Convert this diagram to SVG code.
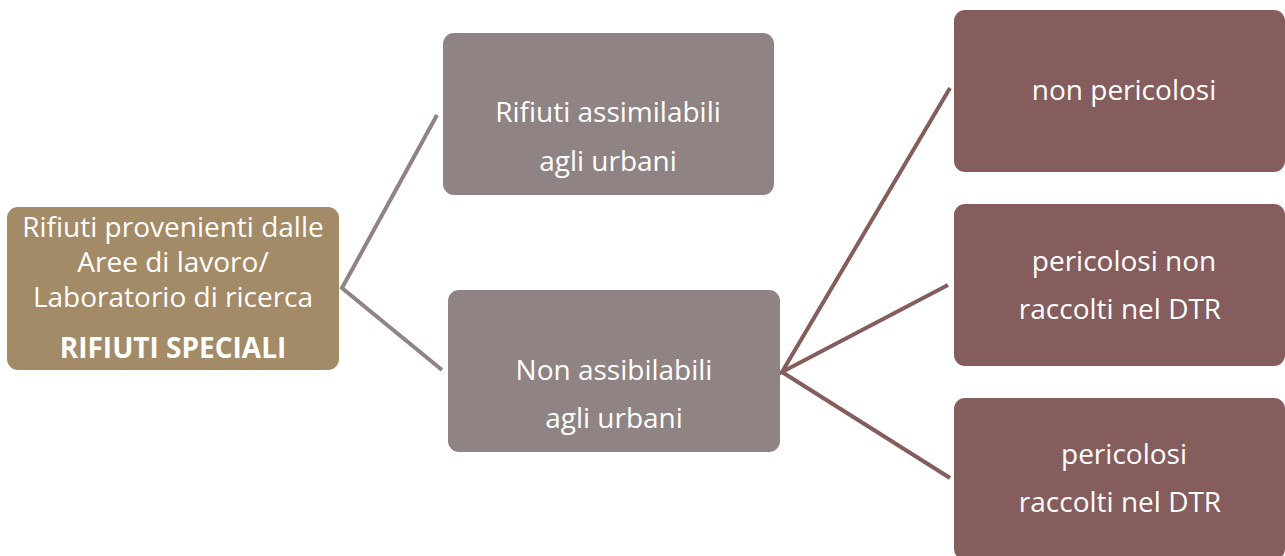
<svg xmlns="http://www.w3.org/2000/svg" width="1285" height="556" viewBox="0 0 1285 556">
<style>
.t{font-family:"Open Sans","Liberation Sans",sans-serif;font-size:28px;fill:#ffffff;text-anchor:middle;font-variant-ligatures:none}
.b{font-weight:bold}
.gold{fill:#a38b68}
.grey{fill:#8f8483}
.red{fill:#855d5d}
.cg{stroke:#8f8483;stroke-width:4;fill:none}
.cr{stroke:#855d5d;stroke-width:4;fill:none}
</style>
<rect width="1285" height="556" fill="#ffffff"/>
<g id="connectors">
<polyline class="cg" points="437,115 342,288 442,370"/>
<polyline class="cr" points="950,88 782,372 948,285"/>
<line class="cr" x1="782" y1="372" x2="950" y2="478"/>
</g>
<g id="root">
<rect class="gold" x="7" y="207" width="332" height="163" rx="11"/>
<text class="t" x="173" y="237">Rifiuti provenienti dalle</text>
<text class="t" x="173" y="272">Aree di lavoro/</text>
<text class="t" x="173" y="307">Laboratorio di ricerca</text>
<text class="t b" x="173" y="358">RIFIUTI SPECIALI</text>
</g>
<g id="assimilabili">
<rect class="grey" x="443" y="33" width="331" height="162" rx="11"/>
<text class="t" x="608" y="122">Rifiuti assimilabili</text>
<text class="t" x="608" y="171">agli urbani</text>
</g>
<g id="non-assimilabili">
<rect class="grey" x="448" y="290" width="332" height="162" rx="11"/>
<text class="t" x="614" y="380">Non assibilabili</text>
<text class="t" x="614" y="428">agli urbani</text>
</g>
<g id="non-pericolosi">
<rect class="red" x="954" y="10" width="331" height="162" rx="11"/>
<text class="t" x="1124" y="100">non pericolosi</text>
</g>
<g id="pericolosi-non-raccolti">
<rect class="red" x="954" y="204" width="331" height="162" rx="11"/>
<text class="t" x="1124" y="271">pericolosi non</text>
<text class="t" x="1120" y="319">raccolti nel DTR</text>
</g>
<g id="pericolosi-raccolti">
<rect class="red" x="954" y="398" width="331" height="162" rx="11"/>
<text class="t" x="1124" y="464">pericolosi</text>
<text class="t" x="1120" y="512">raccolti nel DTR</text>
</g>
</svg>
